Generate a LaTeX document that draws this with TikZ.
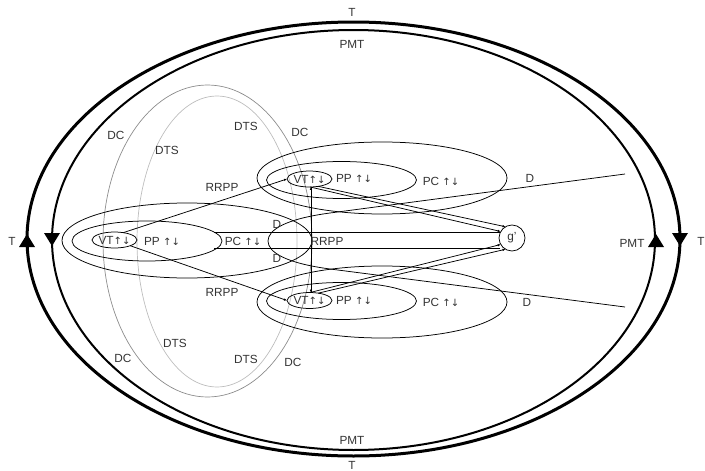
\documentclass[tikz,border=0pt]{standalone}
\usepackage{fontspec}
\setmainfont{Liberation Sans}
\newfontfamily\arrfont{DejaVu Sans}
\usetikzlibrary{shapes.geometric,arrows.meta}
\definecolor{txt}{HTML}{333333}
\definecolor{dcgray}{HTML}{8C8C8C}
\definecolor{dtsgray}{HTML}{BDBDBD}
\newcommand{\ud}{{\arrfont\fontsize{10}{11}\selectfont ↑↓}}
\begin{document}
\begin{tikzpicture}[x=1pt,y=-1pt,
  every node/.style={inner sep=0pt,outer sep=0pt},
  lbl/.style={text=txt,font=\fontsize{11.8}{13}\selectfont},
  thin/.style={line width=0.75pt},
  tip/.style={-{Latex[length=3pt,width=2.5pt]}},
  tri/.style={fill=black}]
\useasboundingbox (0,0) rectangle (705,471);
% big ellipses
\node[ellipse,draw,line width=3pt,minimum width=653pt,minimum height=434pt] (T) at (353.5,239) {};
\node[ellipse,draw,line width=2pt,minimum width=603pt,minimum height=420pt] (PMT) at (353.5,240) {};
% direction marks
\fill[tri] (27,234) -- (35,247) -- (19,247) -- cycle;
\fill[tri] (52,246) -- (44,233) -- (60,233) -- cycle;
\fill[tri] (656,234) -- (664,247) -- (648,247) -- cycle;
\fill[tri] (680,246) -- (672,233) -- (688,233) -- cycle;
% grey ellipses
\node[ellipse,draw=dcgray,line width=0.7pt,minimum width=209pt,minimum height=312pt] (DC) at (207.5,241) {};
\node[ellipse,draw=dtsgray,line width=0.7pt,minimum width=160pt,minimum height=291pt] (DTS) at (217,241.5) {};
% left group
\node[ellipse,draw,thin,minimum width=250pt,minimum height=75pt] (PCL) at (187,240.5) {};
\node[ellipse,draw,thin,minimum width=150pt,minimum height=40pt] (PPL) at (147,241) {};
\node[ellipse,draw,thin,minimum width=45pt,minimum height=16pt] (VTL) at (114.5,240) {};
% top group
\node[ellipse,draw,thin,minimum width=250pt,minimum height=72pt] (PCT) at (382,178) {};
\node[ellipse,draw,thin,minimum width=150pt,minimum height=37pt] (PPT) at (341.5,180) {};
\node[ellipse,draw,thin,minimum width=45pt,minimum height=16pt] (VTT) at (309.5,179) {};
% bottom group
\node[ellipse,draw,thin,minimum width=250pt,minimum height=72pt] (PCB) at (382,302) {};
\node[ellipse,draw,thin,minimum width=150pt,minimum height=37pt] (PPB) at (341.5,301) {};
\node[ellipse,draw,thin,minimum width=45pt,minimum height=16pt] (VTB) at (309.5,300.5) {};
% g'
\node[circle,draw,thin,minimum size=26pt] (G) at (512,238) {};
% D region
\coordinate (Dt) at (625,174);
\coordinate (Db) at (625,307);
\draw[thin] (Dt) -- (330,213) .. controls (285,219) and (268,230) .. (268,241)
  .. controls (268,252) and (285,263) .. (330,269) -- (Db);
% connectors
\coordinate (hL1) at (214,232.5);
\coordinate (hL2) at (214,248.5);
\draw[thin,tip] (VTL.40) -- (VTT.west);
\draw[thin,tip] (VTL.-20) -- (VTB.west);
\draw[thin,tip] (VTT.-80) -- (VTB.80);
\draw[thin,tip] (VTB.80) -- (VTT.-80);
\draw[thin,tip] (VTT.-85) -- (G.150);
\draw[thin,tip] (VTT.-40) -- (G.120);
\draw[thin,tip] (VTB.85) -- (G.-150);
\draw[thin,tip] (VTB.40) -- (G.-120);
\draw[thin] (hL1) -- (hL1 -| G.155);
\draw[thin] (hL2) -- (hL2 -| G.-155);
% labels
\node[lbl] at (352,12) {T};
\node[lbl] at (352,44) {PMT};
\node[lbl] at (352,440) {PMT};
\node[lbl] at (352,465) {T};
\node[lbl] at (12,241) {T};
\node[lbl] at (632,243) {PMT};
\node[lbl] at (701,241) {T};
\node[lbl] at (116,135) {DC};
\node[lbl] at (167,150) {DTS};
\node[lbl] at (246,126) {DTS};
\node[lbl] at (300,132) {DC};
\node[lbl] at (175,343) {DTS};
\node[lbl] at (123,358) {DC};
\node[lbl] at (246,359) {DTS};
\node[lbl] at (293,362) {DC};
\node[lbl] at (222,187) {RRPP};
\node[lbl] at (222,292) {RRPP};
\node[lbl] at (327,241) {RRPP};
\node[lbl] at (277,224) {D};
\node[lbl] at (277,258) {D};
\node[lbl] at (530,178) {D};
\node[lbl] at (527,302) {D};
\node[lbl] at (512,238) {g'};
\node[lbl] at (VTL) {VT\ud};
\node[lbl] at (VTT) {VT\ud};
\node[lbl] at (VTB) {VT\ud};
\node[lbl] at (162,241) {PP \ud};
\node[lbl] at (354,178) {PP \ud};
\node[lbl] at (354,300) {PP \ud};
\node[lbl] at (243,241) {PC \ud};
\node[lbl] at (441,181) {PC \ud};
\node[lbl] at (441,302) {PC \ud};
\end{tikzpicture}
\end{document}
